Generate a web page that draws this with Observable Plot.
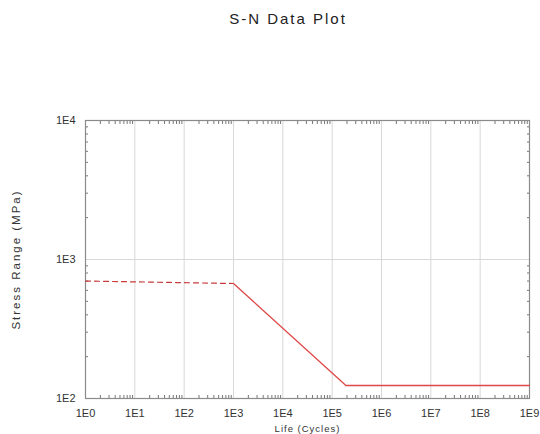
<!DOCTYPE html>
<html><head><meta charset="utf-8">
<script src="https://cdn.jsdelivr.net/npm/d3@7"></script>
<script src="https://cdn.jsdelivr.net/npm/@observablehq/plot@0.6"></script>
<style>
body{margin:0;background:#fff;font-family:"Liberation Sans",Arial,sans-serif;}
#wrap{position:relative;width:540px;height:434px;}
#title{position:absolute;top:11px;left:18px;width:540px;text-align:center;font-size:15px;line-height:15px;color:#222;letter-spacing:2px;z-index:2}
#chart{position:absolute;top:0;left:0}
</style></head>
<body>
<div id="wrap">
<div id="chart"></div>
<div id="title">S-N Data Plot</div>
</div>
<script>
const xTickValues = [1e0,1e1,1e2,1e3,1e4,1e5,1e6,1e7,1e8,1e9];
const xTickLabels = ["1E0","1E1","1E2","1E3","1E4","1E5","1E6","1E7","1E8","1E9"];
const yTickValues = [1e2,1e3,1e4];
const yTickLabels = ["1E2","1E3","1E4"];
// dashed (extrapolated, low-cycle) part of S-N curve
const dashedLife = [1, 1000];
const dashedStress = [700, 672];
// solid part of S-N curve
const solidLife = [1000, 1.9e5, 1e9];
const solidStress = [672, 124, 124];

const dashed = dashedLife.map((x,i)=>({x, y: dashedStress[i]}));
const solid = solidLife.map((x,i)=>({x, y: solidStress[i]}));

const minorX = [];
for (let e=0;e<9;e++) for (let k=2;k<=9;k++) minorX.push(k*Math.pow(10,e));
const minorY = [];
for (let e=2;e<4;e++) for (let k=2;k<=9;k++) minorY.push(k*Math.pow(10,e));

const xfmt = d => xTickLabels[xTickValues.indexOf(d)] ?? "";
const yfmt = d => yTickLabels[yTickValues.indexOf(d)] ?? "";
const frameColor = "#8a8a8a";
const minorColor = "#777";

const plot = Plot.plot({
  width: 540,
  height: 434,
  marginTop: 120,
  marginBottom: 36,
  marginLeft: 85,
  marginRight: 11,
  style: {fontFamily: "'Liberation Sans', Arial, sans-serif", fontSize: "11px", color: "#333", background: "transparent"},
  x: {type: "log", domain: [1, 1e9]},
  y: {type: "log", domain: [100, 1e4]},
  marks: [
    Plot.gridX(xTickValues, {stroke: "#d8d8d8", strokeOpacity: 1, strokeWidth: 1}),
    Plot.gridY(yTickValues, {stroke: "#d8d8d8", strokeOpacity: 1, strokeWidth: 1}),
    Plot.axisX(minorX, {anchor: "bottom", tickSize: -3, tickFormat: () => "", stroke: minorColor, label: null}),
    Plot.axisX(minorX, {anchor: "top", tickSize: -3, tickFormat: () => "", stroke: minorColor, label: null}),
    Plot.axisY(minorY, {anchor: "left", tickSize: -3, tickFormat: () => "", stroke: minorColor, label: null}),
    Plot.axisY(minorY, {anchor: "right", tickSize: -3, tickFormat: () => "", stroke: minorColor, label: null}),
    Plot.axisX(xTickValues, {anchor: "bottom", tickSize: 0, tickPadding: 11, tickFormat: xfmt, fontSize: 11, label: "Life (Cycles)", labelAnchor: "center", labelArrow: "none", labelOffset: 33}),
    Plot.axisY(yTickValues, {anchor: "left", tickSize: 0, tickPadding: 10, tickFormat: yfmt, fontSize: 11, label: "Stress Range (MPa)", labelAnchor: "center", labelArrow: "none", labelOffset: 74}),
    Plot.frame({stroke: frameColor, strokeWidth: 1.2}),
    Plot.line(dashed, {x: "x", y: "y", stroke: "#c83a3a", strokeWidth: 1.2, strokeDasharray: "5,4"}),
    Plot.line(solid, {x: "x", y: "y", stroke: "#e04848", strokeWidth: 1.3})
  ]
});
document.getElementById("chart").appendChild(plot);
d3.select(plot).selectAll('[aria-label="x-axis label"] text')
  .style("font-size", "9.5px").style("letter-spacing", "1px");
d3.select(plot).selectAll('[aria-label="y-axis label"] text')
  .style("font-size", "11.5px").style("letter-spacing", "2px");
</script>
</body></html>
